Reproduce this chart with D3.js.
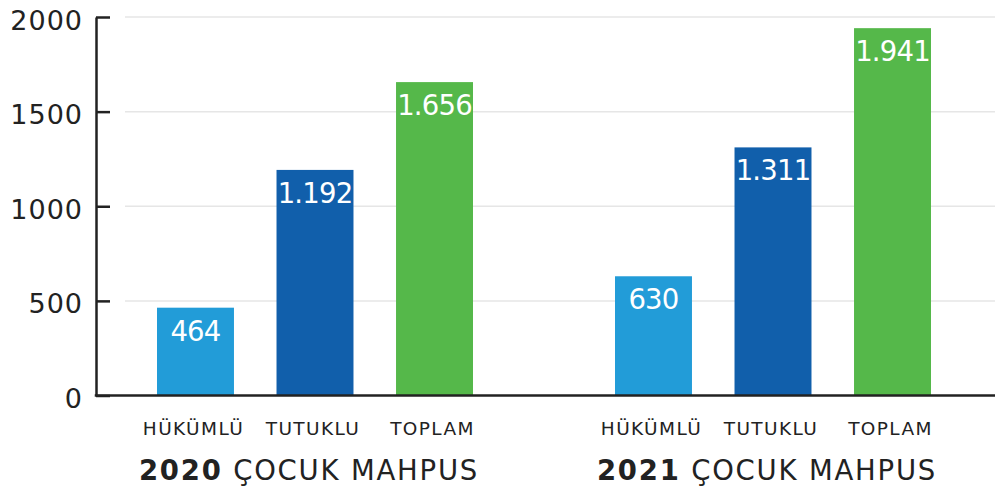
<!DOCTYPE html>
<html>
<head>
<meta charset="utf-8">
<script src="https://cdn.jsdelivr.net/npm/d3@7"></script>
<style>
  html, body { margin: 0; padding: 0; background: #fff; }
  svg { display: block; }
  text { font-family: "DejaVu Sans", sans-serif; }
</style>
</head>
<body>
<svg id="chart" width="995" height="493"></svg>
<script>
const years = ["2020", "2021"];
const categories = ["HÜKÜMLÜ", "TUTUKLU", "TOPLAM"];
const values2020 = [464, 1192, 1656];
const values2021 = [630, 1311, 1941];
const yTicks = [0, 500, 1000, 1500, 2000];
const groupTitleSuffix = " ÇOCUK MAHPUS";
const colors = ["#229cd8", "#115fab", "#55b84a"];

const seriesByYear = { "2020": values2020, "2021": values2021 };

const svg = d3.select("#chart");
const W = 995, H = 493;
const axisX = 96;
const y = d3.scaleLinear().domain([0, 2000]).range([395.5, 17]);

const x0 = d3.scaleBand().domain(years).range([157, 931]).paddingInner(142 / 458).paddingOuter(0);
const x1 = d3.scaleBand().domain(categories).range([0, x0.bandwidth()]).paddingInner(0.356).paddingOuter(0);

const tr = d3.formatLocale({ decimal: ",", thousands: ".", grouping: [3], currency: ["", "₺"] });
const fmt = tr.format(",d");

// gridlines
svg.append("g").selectAll("line")
  .data(yTicks.filter(d => d > 0))
  .join("line")
  .attr("x1", 125).attr("x2", W)
  .attr("y1", d => y(d)).attr("y2", d => y(d))
  .attr("stroke", "#e6e6e6").attr("stroke-width", 1.5);

// bars
const groups = svg.append("g").selectAll("g")
  .data(years)
  .join("g")
  .attr("transform", d => `translate(${x0(d)},0)`);

groups.selectAll("rect")
  .data(yr => seriesByYear[yr].map((v, i) => ({ cat: categories[i], v, i })))
  .join("rect")
  .attr("x", d => x1(d.cat))
  .attr("width", x1.bandwidth())
  .attr("y", d => y(d.v))
  .attr("height", d => y(0) - y(d.v))
  .attr("fill", d => colors[d.i]);

groups.selectAll("text.val")
  .data(yr => seriesByYear[yr].map((v, i) => ({ cat: categories[i], v, i })))
  .join("text")
  .attr("class", "val")
  .attr("x", d => x1(d.cat) + x1.bandwidth() / 2)
  .attr("y", d => y(d.v) + 33)
  .attr("text-anchor", "middle")
  .attr("fill", "#fff")
  .attr("font-size", 27.5)
  .attr("letter-spacing", -0.8)
  .text(d => fmt(d.v));

// category labels
groups.selectAll("text.cat")
  .data(categories)
  .join("text")
  .attr("class", "cat")
  .attr("x", d => x1(d) + x1.bandwidth() / 2 - 2)
  .attr("y", 435)
  .attr("text-anchor", "middle")
  .attr("fill", "#222")
  .attr("font-size", 18.5)
  .attr("letter-spacing", 1.4)
  .text(d => d);

// group titles
groups.append("text")
  .attr("x", x0.bandwidth() / 2 - 6)
  .attr("y", 480)
  .attr("text-anchor", "middle")
  .attr("fill", "#222")
  .attr("font-size", 27.5)
  .attr("letter-spacing", 1.8)
  .call(t => {
    t.append("tspan").attr("font-weight", "bold").text(d => d);
    t.append("tspan").text(groupTitleSuffix);
  });

// y axis
const yAxis = d3.axisLeft(y).tickValues(yTicks).tickSizeInner(-14).tickSizeOuter(0).tickPadding(13).tickFormat(d3.format("d"));
const gy = svg.append("g").attr("transform", `translate(${axisX},0)`).call(yAxis);
gy.select(".domain").attr("stroke", "#222").attr("stroke-width", 2.5);
gy.selectAll(".tick line").attr("stroke", "#222").attr("stroke-width", 2.5);
gy.selectAll(".tick text")
  .attr("font-family", "DejaVu Sans, sans-serif")
  .attr("font-size", 27)
  .attr("letter-spacing", 1)
  .attr("fill", "#222")
  .attr("dy", 12);

// x baseline
svg.append("line")
  .attr("x1", axisX - 1.25).attr("x2", W)
  .attr("y1", y(0)).attr("y2", y(0))
  .attr("stroke", "#222").attr("stroke-width", 2.5);
</script>
</body>
</html>
